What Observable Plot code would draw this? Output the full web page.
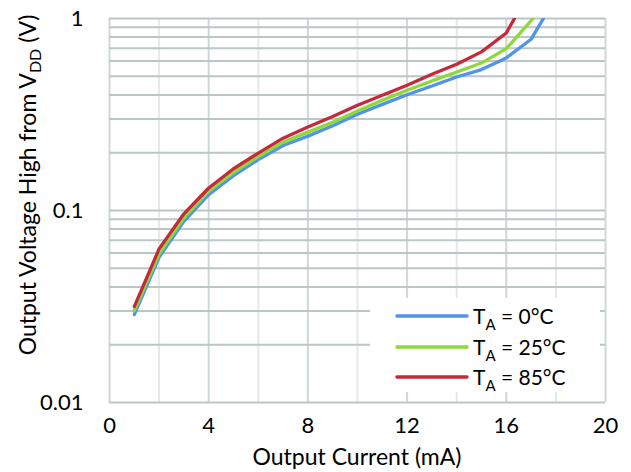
<!DOCTYPE html>
<html><head><meta charset="utf-8">
<script src="https://cdn.jsdelivr.net/npm/d3@7"></script>
<script src="https://cdn.jsdelivr.net/npm/@observablehq/plot@0.6"></script>
<style>body{margin:0;background:#fff;} svg{display:block;}</style>
</head><body><div id="chart"></div>
<script>
// Output current (mA) and output voltage high from VDD (V), per ambient temperature
const current0  = [1,2,3,4,5,6,7,8,9,10,11,12,13,14,15,16,17,17.5];
const voh0      = [0.0287,0.0571,0.0879,0.121,0.152,0.184,0.218,0.244,0.276,0.317,0.357,0.401,0.445,0.496,0.542,0.623,0.780,1.0];
const current25 = [1,2,3,4,5,6,7,8,9,10,11,12,13,14,15,16,17.08];
const voh25     = [0.0301,0.0595,0.0916,0.126,0.158,0.191,0.227,0.256,0.288,0.330,0.375,0.423,0.473,0.526,0.586,0.697,1.0];
const current85 = [1,2,3,4,5,6,7,8,9,10,11,12,13,14,15,16,16.33];
const voh85     = [0.0316,0.0631,0.0961,0.131,0.165,0.199,0.238,0.272,0.309,0.353,0.398,0.449,0.512,0.578,0.670,0.841,1.0];

const seriesTemps = ["0°C", "25°C", "85°C"];
const seriesColors = ["#4f94e8", "#8fd83a", "#c42a3a"];

const xTicks = [0,4,8,12,16,20];
const xGridMinor = [2,6,10,14,18];
const xGridMajor = [0,4,8,12,16,20];
const yTicks = [0.01, 0.1, 1];
const yGrid = [0.01,0.02,0.03,0.04,0.05,0.06,0.07,0.08,0.09,0.1,0.2,0.3,0.4,0.5,0.6,0.7,0.8,0.9,1];

const toRows = (xs, ys, t) => xs.map((x, i) => ({current: x, voh: ys[i], temp: t}));
const rows = [
  ...toRows(current0, voh0, seriesTemps[0]),
  ...toRows(current25, voh25, seriesTemps[1]),
  ...toRows(current85, voh85, seriesTemps[2])
];

const font = "Lato, 'Open Sans', sans-serif";

const plot = Plot.plot({
  width: 631,
  height: 472,
  marginLeft: 109,
  marginRight: 26,
  marginTop: 18,
  marginBottom: 70,
  style: {fontFamily: font, fontSize: "22px", color: "#000", background: "#fff"},
  x: {domain: [0, 20], label: null},
  y: {type: "log", domain: [0.01, 1], label: null},
  color: {domain: seriesTemps, range: seriesColors},
  marks: [
    Plot.ruleX(xGridMinor, {stroke: "#e3e9e9", strokeWidth: 2}),
    Plot.ruleX(xGridMajor, {stroke: "#cfd8d8", strokeWidth: 2}),
    Plot.ruleY(yGrid, {stroke: "#bcc6c6", strokeWidth: 2}),
    Plot.axisX({ticks: xTicks, tickSize: 0, tickPadding: 15, tickFormat: d => String(d), fontSize: 22}),
    Plot.axisY({ticks: yTicks, tickSize: 0, tickPadding: 26, tickFormat: d => String(+d.toPrecision(1)), fontSize: 22}),
    Plot.line(rows, {x: "current", y: "voh", z: "temp", stroke: "temp", strokeWidth: 3.3, strokeLinejoin: "miter", clip: true})
  ]
});

document.getElementById("chart").appendChild(plot);

const svg = d3.select(plot);

// Axis titles
svg.append("text")
  .attr("x", 357).attr("y", 465)
  .attr("text-anchor", "middle")
  .style("font-family", font).style("font-size", "23px").attr("fill", "#000")
  .text("Output Current (mA)");

const yl = svg.append("text")
  .attr("transform", "translate(36,185) rotate(-90)")
  .attr("text-anchor", "middle")
  .style("font-family", font).style("font-size", "23px").attr("fill", "#000");
yl.append("tspan").text("Output Voltage High from V");
yl.append("tspan").attr("dy", 5).style("font-size", "16px").text("DD");
yl.append("tspan").attr("dy", -5).text(" (V)");

// Legend
const lg = svg.append("g");
lg.append("rect").attr("x", 370).attr("y", 298).attr("width", 230).attr("height", 94).attr("fill", "#fff");
const legendY = [316, 347, 377];
seriesTemps.forEach((t, i) => {
  lg.append("line")
    .attr("x1", 397).attr("x2", 467).attr("y1", legendY[i]).attr("y2", legendY[i])
    .attr("stroke", seriesColors[i]).attr("stroke-width", 3.5).attr("stroke-linecap", "round");
  const tx = lg.append("text")
    .attr("x", 473).attr("y", legendY[i] + 8)
    .attr("text-anchor", "start")
    .style("font-family", font).style("font-size", "21px").attr("fill", "#000");
  tx.append("tspan").text("T");
  tx.append("tspan").attr("dy", 6).style("font-size", "15px").text("A");
  tx.append("tspan").attr("dy", -6).text(" = " + t);
});
</script>
</body></html>
